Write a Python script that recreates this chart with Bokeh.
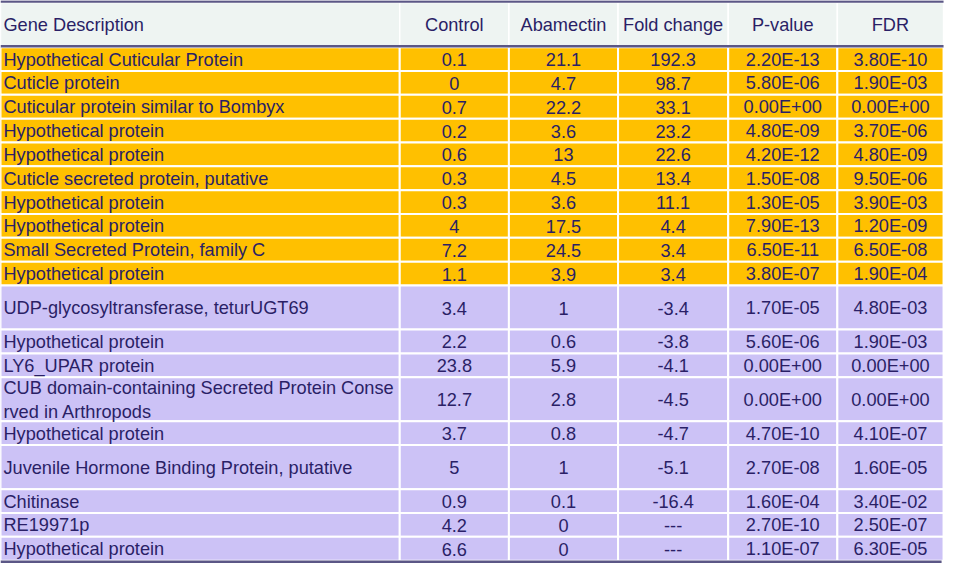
from bokeh.plotting import figure
from bokeh.models import Range1d, ColumnDataSource
from bokeh.core.properties import value
from bokeh.embed import file_html
from bokeh.resources import INLINE

# ---- data ----
headers = ["Gene Description", "Control", "Abamectin", "Fold change", "P-value", "FDR"]
description = [
    "Hypothetical Cuticular Protein", "Cuticle protein", "Cuticular protein similar to Bombyx",
    "Hypothetical protein", "Hypothetical protein", "Cuticle secreted protein, putative",
    "Hypothetical protein", "Hypothetical protein", "Small Secreted Protein, family C",
    "Hypothetical protein", "UDP-glycosyltransferase, teturUGT69", "Hypothetical protein",
    "LY6_UPAR protein", "CUB domain-containing Secreted Protein Conse\nrved in Arthropods",
    "Hypothetical protein", "Juvenile Hormone Binding Protein, putative", "Chitinase",
    "RE19971p", "Hypothetical protein",
]
control = ["0.1", "0", "0.7", "0.2", "0.6", "0.3", "0.3", "4", "7.2", "1.1",
           "3.4", "2.2", "23.8", "12.7", "3.7", "5", "0.9", "4.2", "6.6"]
abamectin = ["21.1", "4.7", "22.2", "3.6", "13", "4.5", "3.6", "17.5", "24.5", "3.9",
             "1", "0.6", "5.9", "2.8", "0.8", "1", "0.1", "0", "0"]
fold_change = ["192.3", "98.7", "33.1", "23.2", "22.6", "13.4", "11.1", "4.4", "3.4", "3.4",
               "-3.4", "-3.8", "-4.1", "-4.5", "-4.7", "-5.1", "-16.4", "---", "---"]
p_value = ["2.20E-13", "5.80E-06", "0.00E+00", "4.80E-09", "4.20E-12", "1.50E-08", "1.30E-05",
           "7.90E-13", "6.50E-11", "3.80E-07", "1.70E-05", "5.60E-06", "0.00E+00", "0.00E+00",
           "4.70E-10", "2.70E-08", "1.60E-04", "2.70E-10", "1.10E-07"]
fdr = ["3.80E-10", "1.90E-03", "0.00E+00", "3.70E-06", "4.80E-09", "9.50E-06", "3.90E-03",
       "1.20E-09", "6.50E-08", "1.90E-04", "4.80E-03", "1.90E-03", "0.00E+00", "0.00E+00",
       "4.10E-07", "1.60E-05", "3.40E-02", "2.50E-07", "6.30E-05"]
group = ["up"] * 10 + ["down"] * 9

# ---- layout (reference pixel coordinates) ----
col_edges = [0, 406, 517, 628, 740, 851, 959]
tall_rows = {10, 13, 15}
ROW_H = 24.5
TALL_H = 45.3
HEADER_TOP, HEADER_BOTTOM = 2, 47
YELLOW = "#FFC000"
LAVENDER = "#CCC2F6"
HEADER_BG = "#EEF4F2"
TEXT = "#2A1F66"
RULE = "#5B5786"
FONT = value("Liberation Sans")
FS = "18.2px"

p = figure(width=946, height=570, output_backend="svg", toolbar_location=None,
           x_range=Range1d(0, 962), y_range=Range1d(586, 0),
           min_border=0, outline_line_color=None)
p.axis.visible = False
p.grid.visible = False
p.background_fill_color = "white"
p.border_fill_color = "white"

# row boundaries
tops, bottoms = [], []
y = HEADER_BOTTOM + 1
for i in range(len(description)):
    h = TALL_H if i in tall_rows else ROW_H
    tops.append(y)
    bottoms.append(y + h)
    y += h
table_bottom = y

# header cells
p.quad(left=col_edges[:-1], right=col_edges[1:], top=[HEADER_TOP] * 6, bottom=[HEADER_BOTTOM] * 6,
       fill_color=HEADER_BG, line_color="white", line_width=1.5)

# body cells
L, R, T, B, C = [], [], [], [], []
for i in range(len(description)):
    for c in range(6):
        L.append(col_edges[c]); R.append(col_edges[c + 1])
        T.append(tops[i]); B.append(bottoms[i])
        C.append(YELLOW if group[i] == "up" else LAVENDER)
p.quad(left=L, right=R, top=T, bottom=B, fill_color=C, line_color="white", line_width=2)

# rules
p.segment(x0=[0, 0, 0], x1=[959, 959, 957], y0=[1, HEADER_BOTTOM, table_bottom + 1],
          y1=[1, HEADER_BOTTOM, table_bottom + 1], line_color=RULE, line_width=2.5)

# header text
p.text(x=[3], y=[(HEADER_TOP + HEADER_BOTTOM) / 2 + 1], text=[headers[0]], text_font=FONT,
       text_font_size=FS, text_color=TEXT, text_align="left", text_baseline="middle")
centers = [(col_edges[c] + col_edges[c + 1]) / 2 for c in range(1, 6)]
p.text(x=centers, y=[(HEADER_TOP + HEADER_BOTTOM) / 2 + 1] * 5, text=headers[1:], text_font=FONT,
       text_font_size=FS, text_color=TEXT, text_align="center", text_baseline="middle")

mids = [(t + b) / 2 + 0.5 for t, b in zip(tops, bottoms)]
src = ColumnDataSource(dict(y=mids, d=description, c1=control, c2=abamectin,
                            c3=fold_change, c4=p_value, c5=fdr))
p.text(x=3, y="y", text="d", source=src, text_font=FONT, text_font_size=FS, text_color=TEXT,
       text_align="left", text_baseline="middle", text_line_height=1.2)
for k, name in enumerate(["c1", "c2", "c3", "c4", "c5"]):
    p.text(x=centers[k], y="y", text=name, source=src, text_font=FONT, text_font_size=FS,
           text_color=TEXT, text_align="center", text_baseline="middle")

open("out.html", "w").write(file_html(p, INLINE))
